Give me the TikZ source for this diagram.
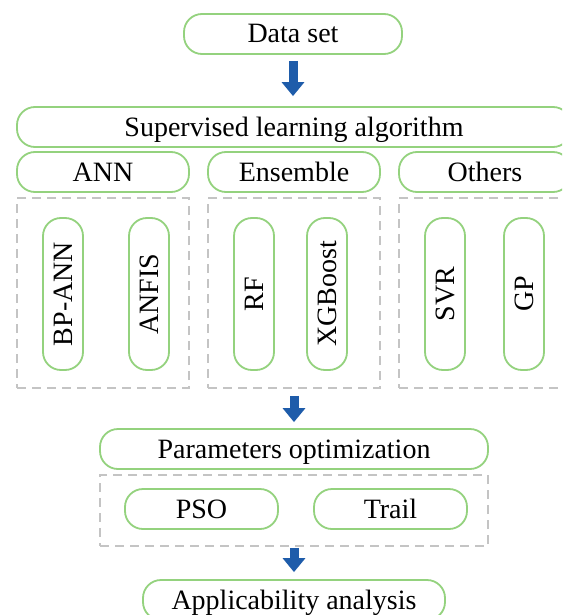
\documentclass[tikz,border=0pt]{standalone}
\usepackage{fontspec}
\setmainfont{Liberation Serif}
\usetikzlibrary{arrows.meta}
\definecolor{pillgreen}{RGB}{148,210,126}
\definecolor{dashgray}{RGB}{196,196,196}
\definecolor{arrowblue}{RGB}{30,92,170}
\tikzset{
  pill/.style={draw=pillgreen, line width=1.8pt, rounded corners=18pt, fill=white,
    inner sep=0pt, font=\fontsize{28}{30}\selectfont,
    text height=20pt, text depth=2pt},
  hpill/.style={pill, minimum height=40pt},
  vpill/.style={pill, rotate=90, minimum width=152pt, minimum height=40pt},
  group/.style={draw=dashgray, line width=1.8pt, dash pattern=on 9pt off 6pt, inner sep=0pt},
  bigarrow/.style={draw=arrowblue, line width=9pt,
    -{Triangle[width=22pt,length=14pt]}, color=arrowblue},
}
\begin{document}
\begin{tikzpicture}[x=1pt,y=-1pt]
  \clip (0,0) rectangle (562,615);
  \fill[white] (0,0) rectangle (562,615);

  % input
  \node[hpill, minimum width=218pt] (data) at (293,34) {Data set};

  % model families
  \node[hpill, minimum width=554pt] (sup) at (294,127) {Supervised learning algorithm};
  \node[hpill, minimum width=172pt] (ann) at (103,172) {ANN};
  \node[hpill, minimum width=172pt] (ens) at (294,172) {Ensemble};
  \node[hpill, minimum width=172pt] (oth) at (485,172) {Others};

  % dashed groups of models
  \node[group, minimum width=172pt, minimum height=190pt] (gann) at (103,293) {};
  \node[group, minimum width=172pt, minimum height=190pt] (gens) at (294,293) {};
  \node[group, minimum width=172pt, minimum height=190pt] (goth) at (485,293) {};

  \node[vpill] (bpann) at (63,294) {BP-ANN};
  \node[vpill] (anfis) at (149,294) {ANFIS};
  \node[vpill] (rf) at (254,294) {RF};
  \node[vpill] (xgb) at (327,294) {XGBoost};
  \node[vpill] (svr) at (445,294) {SVR};
  \node[vpill] (gp) at (524,294) {GP};

  % optimisation stage
  \node[hpill, minimum width=388pt] (param) at (294,449) {Parameters optimization};
  \node[group, minimum width=388pt, minimum height=71pt] (gopt) at (294,510.5) {};
  \node[hpill, minimum width=153pt] (pso) at (201.5,509) {PSO};
  \node[hpill, minimum width=153pt] (trail) at (390.5,509) {Trail};

  % output
  \node[hpill, minimum width=302pt] (app) at (294,600) {Applicability analysis};

  % flow arrows
  \draw[bigarrow] ([yshift=-6pt]data.south) -- ([yshift=10pt]data.south |- sup.north);
  \draw[bigarrow] ([yshift=-7pt]gens.south) -- ([yshift=6pt]gens.south |- param.north);
  \draw[bigarrow] ([yshift=-1pt]gopt.south) -- ([yshift=7pt]gopt.south |- app.north);
\end{tikzpicture}
\end{document}
